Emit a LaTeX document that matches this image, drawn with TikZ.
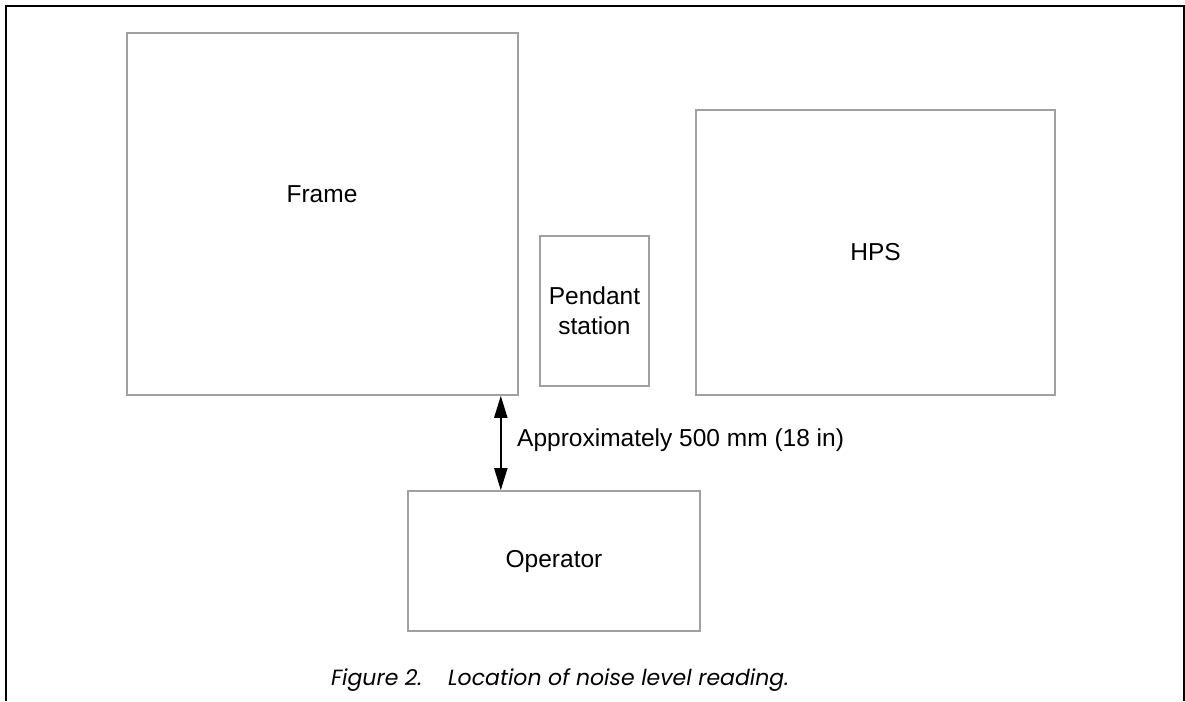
\documentclass[tikz,border=0pt]{standalone}
\usepackage{fontspec}
\setmainfont{Liberation Sans}
\newfontfamily\capfont{Poppins}
\usetikzlibrary{arrows.meta}
\definecolor{boxgray}{RGB}{160,160,160}
\tikzset{
  box/.style={draw=boxgray, line width=1.6pt, rectangle, inner sep=0pt, fill=white},
  lbl/.style={font=\fontsize{24.5}{30}\selectfont, align=center, inner sep=0pt},
  dim/.style={line width=2pt, {Triangle[length=22pt,width=13pt]}-{Triangle[length=22pt,width=13pt]}},
  outer/.style={line width=2.6pt, black}
}
\begin{document}
\begin{tikzpicture}[x=1pt,y=-1pt]
\useasboundingbox (0,0) rectangle (1185,701);
\draw[outer] (6,701) -- (6,6) -- (1184,6) -- (1184,701);
% boxes
\node[box, minimum width=391pt, minimum height=362pt] (frame) at (322.5,214) {};
\node[lbl] (frametxt) at (322,194) {Frame};
\node[box, minimum width=109pt, minimum height=150pt, lbl] (pendant) at (594.5,311) {Pendant\\station};
\node[box, minimum width=359pt, minimum height=285pt, lbl] (hps) at (875.5,252.5) {HPS};
\node[box, minimum width=292pt, minimum height=140pt, lbl] (operator) at (554,561) {Operator};
% dimension arrow
\draw[dim] ([xshift=-18pt]frame.south east) -- ([xshift=-18pt]frame.south east |- operator.north);
\node[lbl, anchor=west] (dimlbl) at (517,440) {Approximately 500 mm (18 in)};
% caption
\node[inner sep=0pt, font=\capfont\itshape\fontsize{22}{26}\selectfont] (caption) at (560,680) {Figure 2.\hspace{26pt}Location of noise level reading.};
\end{tikzpicture}
\end{document}
